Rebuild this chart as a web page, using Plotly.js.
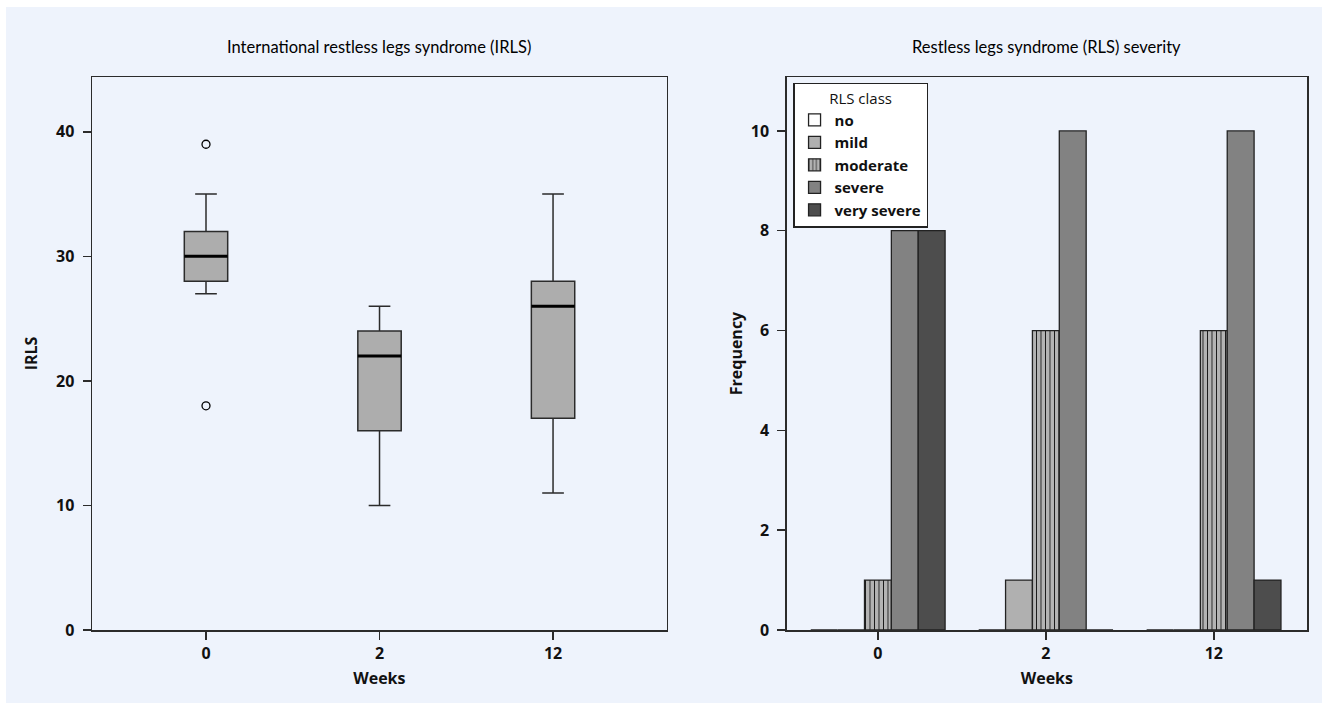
<!DOCTYPE html>
<html>
<head>
<meta charset="utf-8">
<script src="https://cdn.plot.ly/plotly-3.0.1.min.js"></script>
<style>
html,body{margin:0;padding:0;background:#ffffff;width:1322px;height:703px;overflow:hidden;}
#chart{position:absolute;left:6px;top:7px;width:1316px;height:696px;}
</style>
</head>
<body>
<div id="chart"></div>
<script>
// ---- Data ----
const weekLabels = ['0', '2', '12'];
const weekIndex = [0, 1, 2];

// IRLS box plot statistics per week
const irlsLowerWhisker = [27, 10, 11];
const irlsQ1 = [28, 16, 17];
const irlsMedian = [30, 22, 26];
const irlsQ3 = [32, 24, 28];
const irlsUpperWhisker = [35, 26, 35];
const outlierWeekIndex = [0, 0];
const outlierValues = [39, 18];

// RLS severity frequencies per week
const rlsClasses = ['no', 'mild', 'moderate', 'severe', 'very severe'];
const freqNo = [0, 0, 0];
const freqMild = [0, 1, 0];
const freqModerate = [1, 6, 6];
const freqSevere = [8, 10, 10];
const freqVerySevere = [8, 0, 1];

// ---- Styles ----
const BG = '#eef3fc';
const LINE = '#2b2b2b';
const TFONT = 'Lato, "Open Sans", sans-serif';
const FONT = '"Open Sans", Lato, sans-serif';
const BOX_W = 0.25;

const traces = [];

traces.push({
  type: 'box', xaxis: 'x', yaxis: 'y',
  x: weekIndex,
  q1: irlsQ1, median: irlsMedian, q3: irlsQ3,
  lowerfence: irlsLowerWhisker, upperfence: irlsUpperWhisker,
  width: BOX_W, whiskerwidth: 0.5,
  fillcolor: '#adadad',
  line: {color: LINE, width: 1.5},
  boxpoints: false, showlegend: false, hoverinfo: 'skip'
});

// thick median lines
const medX = [], medY = [];
weekIndex.forEach((w, i) => {
  medX.push(w - BOX_W / 2, w + BOX_W / 2, null);
  medY.push(irlsMedian[i], irlsMedian[i], null);
});
traces.push({
  type: 'scatter', mode: 'lines', xaxis: 'x', yaxis: 'y',
  x: medX, y: medY, line: {color: '#000', width: 3},
  showlegend: false, hoverinfo: 'skip'
});

traces.push({
  type: 'scatter', mode: 'markers', xaxis: 'x', yaxis: 'y',
  x: outlierWeekIndex, y: outlierValues,
  marker: {symbol: 'circle', size: 8, color: BG, line: {color: '#000', width: 1.3}},
  showlegend: false, hoverinfo: 'skip'
});

const barSeries = [freqNo, freqMild, freqModerate, freqSevere, freqVerySevere];
const barColors = ['#ffffff', '#b0b0b0', '#b3b3b3', '#828282', '#4d4d4d'];
barSeries.forEach((vals, i) => {
  const t = {
    type: 'bar', xaxis: 'x2', yaxis: 'y2',
    name: rlsClasses[i], x: weekIndex, y: vals,
    marker: {color: barColors[i], line: {color: '#222', width: 1.3}},
    hoverinfo: 'skip'
  };
  if (rlsClasses[i] === 'moderate') {
    t.marker.pattern = {shape: '|', bgcolor: '#b3b3b3', fgcolor: '#1a1a1a', fillmode: 'replace', size: 4.5, solidity: 0.2};
  }
  traces.push(t);
});

const axisCommon = {
  showline: true, linecolor: LINE, linewidth: 1.5, mirror: true,
  ticks: 'outside', ticklen: 8, tickcolor: LINE, tickwidth: 1.5,
  showgrid: false, zeroline: false,
  tickfont: {family: FONT, size: 16, color: '#111', weight: 'bold'},
  fixedrange: true
};
const axTitleFont = {family: FONT, size: 16, weight: 'bold', color: '#111'};

const layout = {
  width: 1316, height: 696,
  paper_bgcolor: BG, plot_bgcolor: BG,
  margin: {l: 86, r: 15, t: 70, b: 73},
  showlegend: true,
  barmode: 'group', bargap: 0.2, bargroupgap: 0,
  font: {family: FONT, color: '#111'},
  xaxis: Object.assign({}, axisCommon, {
    domain: [0, 0.473], range: [-0.657, 2.655],
    tickvals: weekIndex, ticktext: weekLabels,
    title: {text: 'Weeks', standoff: 10, font: axTitleFont}
  }),
  yaxis: Object.assign({}, axisCommon, {
    domain: [0, 1], range: [0, 44.4],
    tickvals: [0, 10, 20, 30, 40], ticklabelstandoff: 5,
    title: {text: 'IRLS', standoff: 14, font: axTitleFont}
  }),
  xaxis2: Object.assign({}, axisCommon, {
    anchor: 'y2', domain: [0.5718, 1], range: [-0.543, 2.555],
    tickvals: weekIndex, ticktext: weekLabels,
    title: {text: 'Weeks', standoff: 10, font: axTitleFont}
  }),
  yaxis2: Object.assign({}, axisCommon, {
    anchor: 'x2', domain: [0, 1], range: [0, 11.08],
    tickvals: [0, 2, 4, 6, 8, 10], ticklabelstandoff: 5,
    title: {text: 'Frequency', standoff: 4, font: axTitleFont}
  }),
  legend: {
    x: 0.577, y: 0.99, xanchor: 'left', yanchor: 'top',
    bgcolor: '#ffffff', bordercolor: '#222', borderwidth: 1.5,
    font: {family: FONT, size: 15, weight: 'bold', color: '#111'},
    title: {text: 'RLS class', side: 'top center', font: {family: FONT, size: 15, weight: 'normal', color: '#111'}},
    traceorder: 'normal', itemclick: false, itemdoubleclick: false,
    tracegroupgap: 0
  },
  annotations: [
    {text: 'International restless legs syndrome (IRLS)', xref: 'paper', yref: 'paper',
     x: 0.2365, y: 1.054, xanchor: 'center', yanchor: 'middle', showarrow: false,
     font: {family: TFONT, size: 16.5, color: '#000'}},
    {text: 'Restless legs syndrome (RLS) severity', xref: 'paper', yref: 'paper',
     x: 0.7859, y: 1.054, xanchor: 'center', yanchor: 'middle', showarrow: false,
     font: {family: TFONT, size: 16.5, color: '#000'}}
  ]
};

Plotly.newPlot('chart', traces, layout, {displayModeBar: false, staticPlot: true});
</script>
</body>
</html>
